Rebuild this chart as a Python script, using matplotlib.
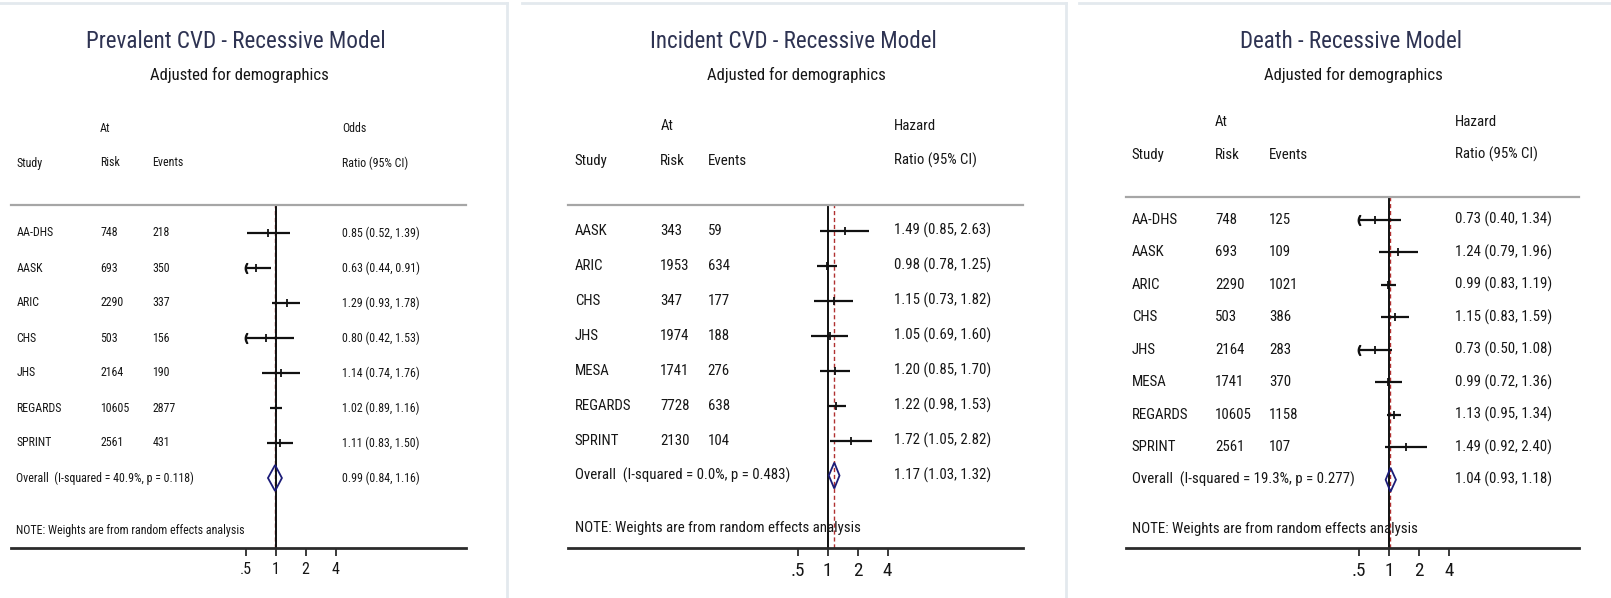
import numpy as np
import matplotlib.pyplot as plt
from matplotlib import font_manager
from matplotlib.lines import Line2D
from matplotlib.ticker import NullLocator

# ---- data: Prevalent CVD (odds ratios) ----
studies1 = ['AA-DHS', 'AASK', 'ARIC', 'CHS', 'JHS', 'REGARDS', 'SPRINT']
risk1 = [748, 693, 2290, 503, 2164, 10605, 2561]
events1 = [218, 350, 337, 156, 190, 2877, 431]
est1 = [0.85, 0.63, 1.29, 0.80, 1.14, 1.02, 1.11]
lo1 = [0.52, 0.44, 0.93, 0.42, 0.74, 0.89, 0.83]
hi1 = [1.39, 0.91, 1.78, 1.53, 1.76, 1.16, 1.50]
overall1 = [0.99, 0.84, 1.16]
het1 = ['40.9%', '0.118']

# ---- data: Incident CVD (hazard ratios) ----
studies2 = ['AASK', 'ARIC', 'CHS', 'JHS', 'MESA', 'REGARDS', 'SPRINT']
risk2 = [343, 1953, 347, 1974, 1741, 7728, 2130]
events2 = [59, 634, 177, 188, 276, 638, 104]
est2 = [1.49, 0.98, 1.15, 1.05, 1.20, 1.22, 1.72]
lo2 = [0.85, 0.78, 0.73, 0.69, 0.85, 0.98, 1.05]
hi2 = [2.63, 1.25, 1.82, 1.60, 1.70, 1.53, 2.82]
overall2 = [1.17, 1.03, 1.32]
het2 = ['0.0%', '0.483']

# ---- data: Death (hazard ratios) ----
studies3 = ['AA-DHS', 'AASK', 'ARIC', 'CHS', 'JHS', 'MESA', 'REGARDS', 'SPRINT']
risk3 = [748, 693, 2290, 503, 2164, 1741, 10605, 2561]
events3 = [125, 109, 1021, 386, 283, 370, 1158, 107]
est3 = [0.73, 1.24, 0.99, 1.15, 0.73, 0.99, 1.13, 1.49]
lo3 = [0.40, 0.79, 0.83, 0.83, 0.50, 0.72, 0.95, 0.92]
hi3 = [1.34, 1.96, 1.19, 1.59, 1.08, 1.36, 1.34, 2.40]
overall3 = [1.04, 0.93, 1.18]
het3 = ['19.3%', '0.277']

titles = ['Prevalent CVD - Recessive Model', 'Incident CVD - Recessive Model',
          'Death - Recessive Model']
subtitle = 'Adjusted for demographics'
note = 'NOTE: Weights are from random effects analysis'
ratio_words = ['Odds', 'Hazard', 'Hazard']
tick_vals = [0.5, 1, 2, 4]
tick_labels = ['.5', '1', '2', '4']

# prefer a narrow face like the original, else plain Liberation Sans
names = {f.name for f in font_manager.fontManager.ttflist}
family = 'Liberation Sans'
for cand in ['Liberation Sans Narrow', 'Arial Narrow', 'Roboto Condensed',
             'Open Sans Condensed']:
    if cand in names:
        family = cand
        break
plt.rcParams['font.family'] = [family, 'DejaVu Sans']

fig = plt.figure(figsize=(16.11, 5.98), dpi=100)
W, H = 1611.0, 598.0
renderer = fig.canvas.get_renderer()


def fit(s, target):
    # font size that makes string s about target pixels wide
    t = fig.text(0, 0, s, fontsize=10)
    w = t.get_window_extent(renderer).width
    t.remove()
    return 10.0 * target / w


TXT = '#161616'
TITLE_C = '#2e3352'


def panel(x0, x1, ytop, xone, ylim, cols, note_w, title, title_w, tx, sx,
          studies, risk, events, est, lo, hi, ov, het, word):
    fs = fit(note, note_w)
    ax = fig.add_axes([x0 / W, 1 - 548 / H, (x1 - x0) / W, (548 - ytop) / H])
    ax.set_xscale('log', base=2)
    ax.set_xlim(2 ** ((x0 - xone) / 30.0), 2 ** ((x1 - xone) / 30.0))
    ax.set_ylim(*ylim)
    ax.set_yticks([])
    ax.xaxis.set_minor_locator(NullLocator())
    ax.set_xticks(tick_vals)
    ax.set_xticklabels(tick_labels)
    ax.tick_params(axis='x', length=6, width=1.3, color='#2b2b2b',
                   labelsize=fs + 3, pad=4, labelcolor=TXT)
    for s in ['left', 'right']:
        ax.spines[s].set_visible(False)
    ax.spines['top'].set_color('#a6a6a6')
    ax.spines['top'].set_linewidth(1.6)
    ax.spines['bottom'].set_color('#2b2b2b')
    ax.spines['bottom'].set_linewidth(2)
    ax.patch.set_alpha(0)

    n = len(studies)
    ys = np.arange(n)
    ax.axvline(ov[0], color='#b03030', lw=1, ls=(0, (3, 2)), zorder=1)
    ax.axvline(1, color='#111111', lw=1.4, zorder=2)

    for y, e, l, h in zip(ys, est, lo, hi):
        left = max(l, 0.5)
        ax.plot([left, h], [y, y], color='#111111', lw=1.6, zorder=3,
                solid_capstyle='butt')
        ax.plot([e], [y], marker='|', ms=6, mew=1.3, color='#111111', zorder=4)
        if l <= 0.5:
            ax.plot([0.5], [y], marker='$($', ms=7, color='#111111', zorder=4)

    # overall diamond
    e, l, h = ov
    ax.fill([l, e, h, e, l], [n, n - 0.37, n, n + 0.37, n], facecolor='none',
            edgecolor='#1c1c78', lw=1.3, zorder=5)

    tr = ax.get_yaxis_transform()
    kw = dict(transform=tr, va='center', ha='left', fontsize=fs, color=TXT,
              clip_on=False)
    ax.text(cols[1], -3.0, 'At', **kw)
    ax.text(cols[3], -3.0, word, **kw)
    ax.text(cols[0], -2.0, 'Study', **kw)
    ax.text(cols[1], -2.0, 'Risk', **kw)
    ax.text(cols[2], -2.0, 'Events', **kw)
    ax.text(cols[3], -2.0, 'Ratio (95% CI)', **kw)
    for y, st, r, ev, e, l, h in zip(ys, studies, risk, events, est, lo, hi):
        ax.text(cols[0], y, st, **kw)
        ax.text(cols[1], y, str(r), **kw)
        ax.text(cols[2], y, str(ev), **kw)
        ax.text(cols[3], y, f'{e:.2f} ({l:.2f}, {h:.2f})', **kw)
    ax.text(cols[0], n, f'Overall  (I-squared = {het[0]}, p = {het[1]})', **kw)
    ax.text(cols[3], n, f'{ov[0]:.2f} ({ov[1]:.2f}, {ov[2]:.2f})', **kw)
    ax.text(cols[0], n + 1.5, note, zorder=6, **kw)

    fig.text(tx / W, 1 - 42 / H, title, ha='center', va='center',
             fontsize=fit(title, title_w), color=TITLE_C)
    fig.text(sx / W, 1 - 75 / H, subtitle, ha='center',
             va='center', fontsize=fit(subtitle, 178), color=TXT)
    return ax


panel(11, 465.5, 205, 275.5, (9.0, -0.8), [0.012, 0.196, 0.311, 0.728], 227,
      titles[0], 299, 236, 239, studies1, risk1, events1, est1, lo1, hi1,
      overall1, het1, ratio_words[0])
panel(568, 1023, 205, 827.5, (9.07, -0.73), [0.015, 0.203, 0.307, 0.716], 285,
      titles[1], 285, 793, 796.5, studies2, risk2, events2, est2, lo2, hi2,
      overall2, het2, ratio_words[1])
panel(1126, 1578.6, 197, 1388.8, (10.1, -0.7), [0.013, 0.197, 0.316, 0.727], 285,
      titles[2], 220, 1351, 1353.6, studies3, risk3, events3, est3, lo3, hi3,
      overall3, het3, ratio_words[2])

# light panel frames (top and right edges)
bc = '#e3e9ee'
for xa, xb, xr in [(0, 507, 507), (522, 1066, 1066), (1079, 1611, None)]:
    fig.add_artist(Line2D([xa / W, xb / W], [1 - 3 / H, 1 - 3 / H],
                          transform=fig.transFigure, color=bc, lw=2))
    if xr is not None:
        fig.add_artist(Line2D([xr / W, xr / W], [0, 1 - 3 / H],
                              transform=fig.transFigure, color=bc, lw=2))

fig.savefig('out.png', dpi=100, facecolor='white')
